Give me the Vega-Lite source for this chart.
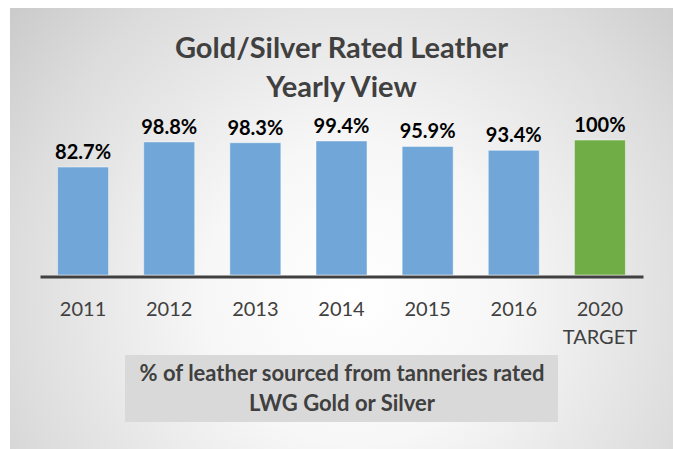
{
  "$schema": "https://vega.github.io/schema/vega-lite/v6.json",
  "autosize": "none",
  "width": 663,
  "height": 441,
  "padding": {"left": 10, "top": 8, "right": 0, "bottom": 0},
  "background": "#ffffff",
  "view": {
    "stroke": null,
    "fill": {
      "gradient": "radial",
      "x1": 0.52, "y1": 0.6, "r1": 0,
      "x2": 0.52, "y2": 0.6, "r2": 0.75,
      "stops": [
        {"offset": 0, "color": "#ffffff"},
        {"offset": 0.3, "color": "#f7f7f7"},
        {"offset": 0.7, "color": "#dcdcdc"},
        {"offset": 1, "color": "#c2c2c2"}
      ]
    }
  },
  "title": {
    "text": ["Gold/Silver Rated Leather", "Yearly View"],
    "font": "Lato",
    "fontSize": 29,
    "fontWeight": "bold",
    "color": "#404040",
    "lineHeight": 39,
    "anchor": "middle",
    "baseline": "top",
    "offset": -95
  },
  "data": {
    "values": [
      {"year": "2011", "value": 0.827, "kind": "actual"},
      {"year": "2012", "value": 0.988, "kind": "actual"},
      {"year": "2013", "value": 0.983, "kind": "actual"},
      {"year": "2014", "value": 0.994, "kind": "actual"},
      {"year": "2015", "value": 0.959, "kind": "actual"},
      {"year": "2016", "value": 0.934, "kind": "actual"},
      {"year": "2020 TARGET", "value": 1.0, "kind": "target"}
    ]
  },
  "encoding": {
    "x": {
      "field": "year",
      "type": "nominal",
      "sort": null,
      "scale": {
        "domain": ["2011", "2012", "2013", "2014", "2015", "2016", "2020 TARGET"],
        "range": [30, 633],
        "paddingInner": 0.408,
        "paddingOuter": 0.204
      },
      "axis": {
        "orient": "bottom",
        "offset": -172.5,
        "zindex": 1,
        "domain": true,
        "domainColor": "#404040",
        "domainWidth": 3,
        "ticks": false,
        "tickSize": 0,
        "grid": false,
        "labelAngle": 0,
        "labelPadding": 22.5,
        "labelFont": "Lato",
        "labelFontSize": 20,
        "labelColor": "#404040",
        "labelLineHeight": 28,
        "labelBaseline": "top",
        "labelExpr": "split(datum.label, ' ')",
        "title": ["% of leather sourced from tanneries rated", "LWG Gold or Silver"],
        "titleFont": "Lato",
        "titleFontSize": 22,
        "titleFontWeight": "bold",
        "titleColor": "#404040",
        "titleLineHeight": 30,
        "titleBaseline": "top",
        "titlePadding": 16
      }
    },
    "y": {
      "field": "value",
      "type": "quantitative",
      "scale": {"domain": [-0.98038, 1.84654], "nice": false, "zero": false},
      "axis": null
    }
  },
  "layer": [
    {
      "transform": [{"filter": "datum.year == '2014'"}],
      "mark": {"type": "bar", "width": 433, "fill": "#d9d9d9"},
      "encoding": {
        "y": {"datum": -0.3778, "type": "quantitative"},
        "y2": {"datum": -0.8073}
      }
    },
    {
      "mark": {"type": "bar", "stroke": "#ffffff", "strokeOpacity": 0.45, "strokeWidth": 1},
      "encoding": {
        "y2": {"datum": 0.135},
        "color": {
          "field": "kind",
          "type": "nominal",
          "scale": {"domain": ["actual", "target"], "range": ["#71a6d9", "#70ad47"]},
          "legend": null
        }
      }
    },
    {
      "mark": {
        "type": "text",
        "baseline": "alphabetic",
        "dy": -8,
        "font": "Lato",
        "fontSize": 20,
        "fontWeight": "bold",
        "color": "#000000"
      },
      "encoding": {
        "text": {"field": "value", "type": "quantitative", "format": ".1~%"}
      }
    }
  ]
}
